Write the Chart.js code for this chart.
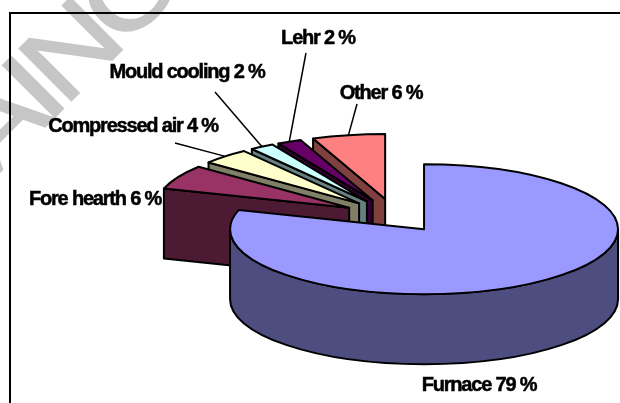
<!DOCTYPE html>
<html>
<head>
<meta charset="utf-8">
<style>
  html, body { margin: 0; padding: 0; background: #fff; }
  #wrap { position: relative; width: 620px; height: 403px; }
</style>
<script src="https://cdn.jsdelivr.net/npm/chart.js@4"></script>
</head>
<body>
<div id="wrap"><canvas id="chart" width="620" height="403"></canvas></div>
<script>
const categories = ['Furnace', 'Fore hearth', 'Compressed air', 'Mould cooling', 'Lehr', 'Other'];
const shares = [79, 6, 4, 2, 2, 6];
const tickLabels = ['Furnace 79 %', 'Fore hearth 6 %', 'Compressed air 4 %', 'Mould cooling 2 %', 'Lehr 2 %', 'Other 6 %'];

const topColors = ['#9999FF', '#993366', '#FFFFCC', '#CCFFFF', '#660066', '#FF8080'];
const sideColors = ['#4D4D80', '#4D1A33', '#808066', '#668080', '#330033', '#804040'];
const explode = [49, 52, 52, 52, 52, 52];

// label centres, and where each leader line starts
const labelAt = [[479, 385], [95, 199], [133, 126], [187, 72], [318, 38], [381, 93]];
const leaderFrom = [null, null, [175, 143], [215, 92], [306, 53], [357, 104]];

const TILT = 0.335;
const DEPTH = 70;

function fakeSlice(arc, off) {
    const mid = (arc.startAngle + arc.endAngle) / 2;
    return {
        x: arc.x + Math.cos(mid) * off,
        y: arc.y + Math.sin(mid) * off * TILT,
        rx: arc.outerRadius,
        ry: arc.outerRadius * TILT,
        start: arc.startAngle,
        end: arc.endAngle
    };
}

function rim(s, a) {
    return [s.x + Math.cos(a) * s.rx, s.y + Math.sin(a) * s.ry];
}

function drawSlice(ctx, s, top, side) {
    ctx.lineWidth = 2;
    ctx.lineJoin = 'round';
    ctx.strokeStyle = '#000';

    // cut faces, only those turned towards the viewer
    ctx.fillStyle = side;
    [[s.start, -1], [s.end, 1]].forEach(([a, dir]) => {
        if (dir * Math.cos(a) <= 0.001) return;
        const p = rim(s, a);
        ctx.beginPath();
        ctx.moveTo(s.x, s.y);
        ctx.lineTo(p[0], p[1]);
        ctx.lineTo(p[0], p[1] + DEPTH);
        ctx.lineTo(s.x, s.y + DEPTH);
        ctx.closePath();
        ctx.fill();
        ctx.stroke();
    });

    // outer wall, only the part that faces the viewer
    for (let k = -1; k <= 1; k++) {
        const from = Math.max(s.start, k * 2 * Math.PI);
        const to = Math.min(s.end, k * 2 * Math.PI + Math.PI);
        if (to <= from) continue;
        ctx.beginPath();
        ctx.ellipse(s.x, s.y, s.rx, s.ry, 0, from, to);
        ctx.ellipse(s.x, s.y + DEPTH, s.rx, s.ry, 0, to, from, true);
        ctx.closePath();
        ctx.fill();
        ctx.stroke();
    }

    // top face
    ctx.fillStyle = top;
    ctx.beginPath();
    ctx.moveTo(s.x, s.y);
    ctx.ellipse(s.x, s.y, s.rx, s.ry, 0, s.start, s.end);
    ctx.closePath();
    ctx.fill();
    ctx.stroke();
}

const pie3d = {
    id: 'pie3d',
    beforeDraw(chart) {
        const ctx = chart.ctx;
        ctx.save();
        ctx.fillStyle = '#fff';
        ctx.fillRect(0, 0, 620, 403);
        // watermark running up to the right, cut off by the page
        ctx.translate(64, 108);
        ctx.rotate(-Math.PI / 4);
        ctx.scale(1.2, 1);
        ctx.font = '107px "Liberation Sans"';
        ctx.letterSpacing = '-9px';
        ctx.fillStyle = '#c6c6c6';
        ctx.strokeStyle = '#c6c6c6';
        ctx.lineWidth = 1.5;
        ctx.textBaseline = 'alphabetic';
        const x0 = -ctx.measureText('AI').width;
        ctx.fillText('AINC', x0, 0);
        ctx.strokeText('AINC', x0, 0);
        ctx.restore();
        // frame, right and bottom sides fall outside the page
        ctx.save();
        ctx.strokeStyle = '#000';
        ctx.lineWidth = 2;
        ctx.strokeRect(10, 13, 640, 430);
        ctx.restore();
    },
    beforeDatasetDraw(chart) {
        const ctx = chart.ctx;
        const arcs = chart.getDatasetMeta(0).data;
        ctx.save();
        // back slices first, the big one last
        for (let i = arcs.length - 1; i >= 0; i--) {
            drawSlice(ctx, fakeSlice(arcs[i], arcs[i].options.offset), topColors[i], sideColors[i]);
        }
        ctx.restore();

        ctx.save();
        ctx.font = 'bold 20px "Liberation Sans"';
        ctx.letterSpacing = '-1.2px';
        ctx.textAlign = 'center';
        ctx.textBaseline = 'middle';
        ctx.fillStyle = '#000';
        tickLabels.forEach((t, i) => {
            ctx.fillText(t, labelAt[i][0], labelAt[i][1]);
            ctx.lineWidth = 0.5;
            ctx.strokeStyle = '#000';
            ctx.strokeText(t, labelAt[i][0], labelAt[i][1]);
            if (leaderFrom[i]) {
                const s = fakeSlice(arcs[i], arcs[i].options.offset);
                const p = rim(s, (s.start + s.end) / 2);
                ctx.beginPath();
                ctx.moveTo(leaderFrom[i][0], leaderFrom[i][1]);
                ctx.lineTo(p[0], p[1]);
                ctx.lineWidth = 1.5;
                ctx.stroke();
            }
        });
        ctx.restore();
        return false;
    }
};

new Chart(document.getElementById('chart'), {
    type: 'pie',
    data: {
        labels: categories,
        datasets: [{
            data: shares,
            backgroundColor: topColors,
            offset: explode,
            radius: 194
        }]
    },
    options: {
        responsive: false,
        animation: false,
        layout: { padding: { left: 170, top: 29 } },
        plugins: { legend: { display: false }, tooltip: { enabled: false } }
    },
    plugins: [pie3d]
});
</script>
</body>
</html>
